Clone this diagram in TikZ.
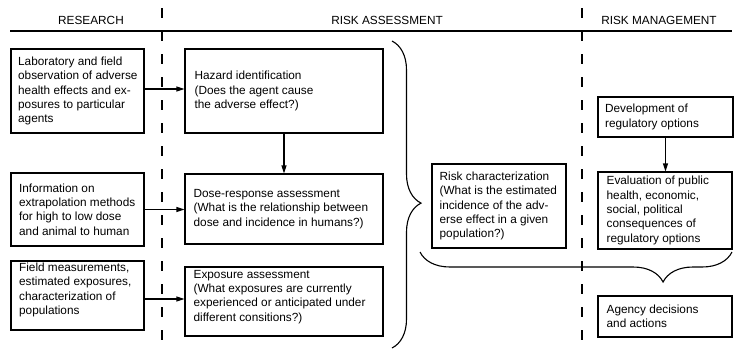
\documentclass[tikz,border=0pt]{standalone}
\usepackage{fontspec}
\setmainfont{Liberation Sans}
\usetikzlibrary{arrows.meta,decorations.pathreplacing}
\begin{document}
\begin{tikzpicture}[x=1pt,y=-1pt,
  font=\fontsize{11.8}{14.3}\selectfont,
  box/.style={draw, line width=1.1pt, inner sep=0pt},
  txt/.style={anchor=west, align=left, inner sep=0pt},
  hdr/.style={anchor=base, inner sep=0pt},
  arr/.style={line width=1.1pt, -{Triangle[length=8pt,width=5pt]}},
  sep/.style={line width=1.1pt, dash pattern=on 10pt off 13pt},
  brc/.style={line width=1.1pt, decorate}]
\useasboundingbox (0,0) rectangle (736,349);

% headers
\node[hdr] (hres) at (91,24.5) {RESEARCH};
\node[hdr] (hass) at (387,24.5) {RISK ASSESSMENT};
\node[hdr] (hman) at (659,24.5) {RISK MANAGEMENT};
\coordinate (hl1) at (10,31);
\coordinate (hl2) at (732,31);
\draw[line width=1.8pt] (hl1) -- (hl2);

% dashed separators
\coordinate (d1a) at (162,8);
\coordinate (d1b) at (162,349);
\coordinate (d2a) at (582,8);
\coordinate (d2b) at (582,349);
\draw[sep] (d1a) -- (d1b);
\draw[sep] (d2a) -- (d2b);

% research boxes
\node[box, minimum width=133pt, minimum height=84pt] (r1) at (77.5,91) {};
\node[txt] (r1t) at ([xshift=7.5pt]r1.west) {Laboratory and field\\observation of adverse\\health effects and ex-\\posures to particular\\agents};
\node[box, minimum width=133pt, minimum height=73pt] (r2) at (77.5,209.5) {};
\node[txt] (r2t) at ([xshift=8.5pt]r2.west) {Information on\\extrapolation methods\\for high to low dose\\and animal to human};
\node[box, minimum width=133pt, minimum height=69pt] (r3) at (77.5,295.5) {};
\node[txt] (r3t) at ([xshift=8.5pt,yshift=5.5pt]r3.west) {Field measurements,\\estimated exposures,\\characterization of\\populations};

% assessment boxes
\node[box, minimum width=198pt, minimum height=84pt] (haz) at (284,91) {};
\node[txt] (hazt) at ([xshift=10pt]haz.west) {Hazard identification\\(Does the agent cause\\the adverse effect?)};
\node[box, minimum width=198pt, minimum height=70pt] (dose) at (284,209) {};
\node[txt] (doset) at ([xshift=9pt]dose.west) {Dose-response assessment\\(What is the relationship between\\dose and incidence in humans?)};
\node[box, minimum width=198pt, minimum height=69pt] (expo) at (284,301.5) {};
\node[txt] (expot) at ([xshift=9pt,yshift=4.5pt]expo.west) {Exposure assessment\\(What exposures are currently\\experienced or anticipated under\\different consitions?)};

\node[box, minimum width=134pt, minimum height=84pt] (risk) at (499,206) {};
\node[txt] (riskt) at ([xshift=8pt]risk.west) {Risk characterization\\(What is the estimated\\incidence of the adv-\\erse effect in a given\\population?)};

% management boxes
\node[box, minimum width=135pt, minimum height=40pt] (dev) at (665.5,117) {};
\node[txt] (devt) at ([xshift=7.5pt]dev.west) {Development of\\regulatory options};
\node[box, minimum width=134pt, minimum height=77pt] (eval) at (665,210.5) {};
\node[txt] (evalt) at ([xshift=9pt]eval.west) {Evaluation of public\\health, economic,\\social, political\\consequences of\\regulatory options};
\node[box, minimum width=134pt, minimum height=41pt] (agency) at (665,316.5) {};
\node[txt] (agencyt) at ([xshift=9pt]agency.west) {Agency decisions\\and actions};

% arrows
\draw[arr] ([yshift=2pt]r1.east) -- ([yshift=2pt]haz.west);
\draw[arr] (r2.east) -- (r2.east -| dose.west);
\draw[arr] ([yshift=-3.5pt]r3.east) -- ([yshift=2.5pt]expo.west);
\draw[arr] (haz.south) -- (haz.south |- dose.north);
\draw[arr] (dev.south) -- (dev.south |- eval.north);

% braces
\coordinate (b1a) at (392,41);
\coordinate (b1b) at (392,348);
\draw[brc, decoration={brace, amplitude=29pt, aspect=0.528}] (b1a) -- (b1b);
\coordinate (b2a) at (732,252);
\coordinate (b2b) at (420,252);
\draw[brc, decoration={brace, amplitude=30pt, aspect=0.221}] (b2a) -- (b2b);
\end{tikzpicture}
\end{document}
